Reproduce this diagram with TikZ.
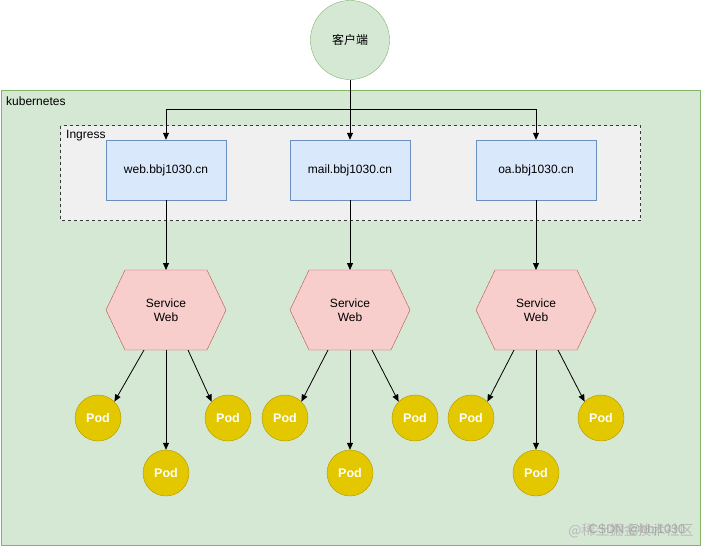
\documentclass[tikz,border=0pt]{standalone}
\usepackage{fontspec}
\setmainfont{Liberation Sans}
\newfontfamily\cjk{Noto Sans CJK SC}
\usetikzlibrary{shapes.geometric,arrows.meta}
\definecolor{kfill}{HTML}{D5E8D4}\definecolor{kline}{HTML}{82B366}
\definecolor{ifill}{HTML}{F0F0F0}\definecolor{iline}{HTML}{36393D}
\definecolor{bfill}{HTML}{DAE8FC}\definecolor{bline}{HTML}{6C8EBF}
\definecolor{hfill}{HTML}{F8CECC}\definecolor{hline}{HTML}{B85450}
\definecolor{pfill}{HTML}{E3C800}\definecolor{pline}{HTML}{B09500}
\tikzset{
  x=1pt,y=-1pt,
  every node/.style={font=\fontsize{12}{14}\selectfont},
  host/.style={draw=bline,fill=bfill,minimum width=120pt,minimum height=60pt,inner sep=0pt},
  pod/.style={circle,draw=pline,fill=pfill,minimum size=46pt,inner sep=0pt,text=white,font=\fontsize{12.5}{14}\selectfont\bfseries},
  arr/.style={-{Triangle[length=7pt,width=6pt]},line width=0.8pt},
  ln/.style={line width=0.8pt}
}
\begin{document}
\begin{tikzpicture}
\useasboundingbox (0,0) rectangle (701,546);
\draw[kline,fill=kfill] (1,90) rectangle (700,545);
\node[anchor=west,inner sep=0pt] (klabel) at (6,101) {kubernetes};
\draw[iline,fill=ifill,dashed,line width=0.7pt] (60.5,125.5) rectangle (640.5,220.5);
\node[anchor=west,inner sep=0pt] (ilabel) at (66,136) {Ingress};
\node[circle,draw=kline,fill=kfill,minimum size=79pt,inner sep=0pt] (client) at (350,40) {\cjk 客户端};
\foreach \n/\x/\pl/\pr/\t in {a/166/98/228/web,b/350/285/415/mail,c/536/471/601/oa}{
  \node[host] (h\n) at (\x,170) {\t.bbj1030.cn};
  \draw[hline,fill=hfill] (\x-60,310) -- (\x-41,270) -- (\x+41,270) -- (\x+60,310) -- (\x+41,350) -- (\x-41,350) -- cycle;
  \node[align=center,inner sep=0pt] (s\n) at (\x,310) {Service\\Web};
  \coordinate (s\n b) at (\x,350);
  \coordinate (s\n l) at (\x-22,350);
  \coordinate (s\n r) at (\x+22,350);
  \coordinate (s\n t) at (\x,270);
  \node[pod] (p\n1) at (\pl,418) {Pod};
  \node[pod] (p\n2) at (\pr,418) {Pod};
  \node[pod] (p\n3) at (\x,473) {Pod};
  \draw[arr] (h\n.south) -- (s\n t);
  \draw[arr] (s\n l) -- (p\n1.north east);
  \draw[arr] (s\n r) -- (p\n2.north west);
  \draw[arr] (s\n b) -- (p\n3.north);
}
\coordinate (split) at (350,109);
\coordinate (la) at (166,109);
\coordinate (lc) at (536,109);
\draw[ln] (client.south) -- (split);
\draw[arr] (split) -- (hb.north);
\draw[arr] (la) -- (ha.north);
\draw[arr] (lc) -- (hc.north);
\draw[ln] (la) -- (lc);
\node[text=gray!55,font=\fontsize{14}{16}\selectfont\cjk,inner sep=0pt] (wm2) at (631,531) {@稀土掘金技术社区};
\node[text=gray!70,font=\fontsize{12.5}{14}\selectfont,inner sep=0pt] (wm1) at (637,530) {CSDN @bbj1030};
\end{tikzpicture}
\end{document}
